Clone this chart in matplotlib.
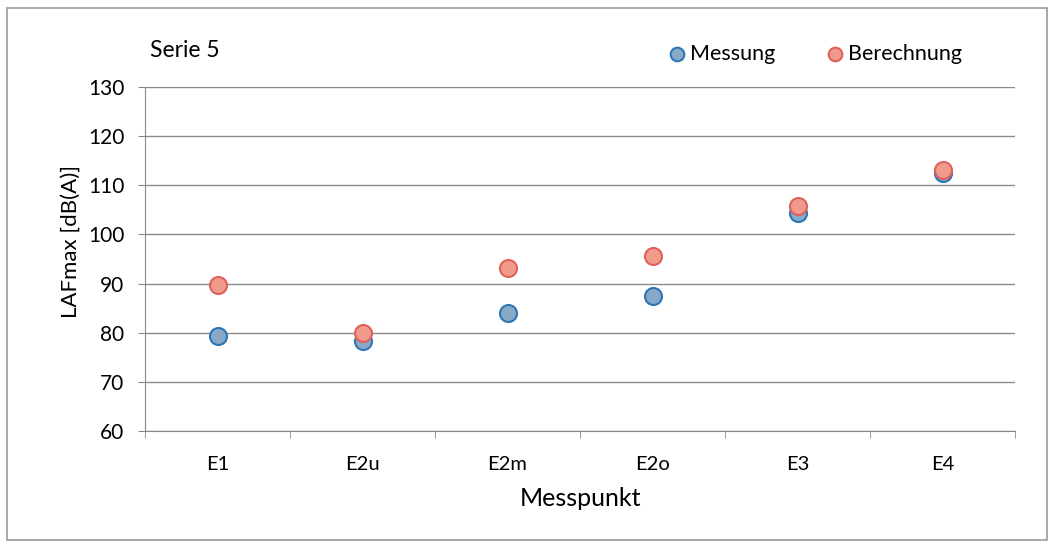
import numpy as np
import matplotlib.pyplot as plt
from matplotlib.patches import Rectangle

plt.rcParams['font.family'] = ['Lato', 'DejaVu Sans']

messpunkte = ["E1", "E2u", "E2m", "E2o", "E3", "E4"]
messung = [79.3, 78.3, 84.0, 87.5, 104.4, 112.5]
berechnung = [89.7, 79.9, 93.2, 95.6, 105.8, 113.1]

fig = plt.figure(figsize=(10.54, 5.48), dpi=100)
ax = fig.add_axes([145/1054, 1 - 431/548, 870/1054, 344/548])

x = np.arange(len(messpunkte))
ax.scatter(x, messung, s=150, facecolor="#86a9c8", edgecolor="#2f76b5", linewidth=1.5, zorder=3, label="Messung")
ax.scatter(x, berechnung, s=150, facecolor="#f09a8c", edgecolor="#e0605a", linewidth=1.5, zorder=4, label="Berechnung")

ax.set_xlim(-0.5, len(messpunkte) - 0.5)
ax.set_ylim(60, 130)
ax.set_yticks(np.arange(60, 131, 10))
ax.set_xticks(x)
ax.set_xticklabels(messpunkte)
ax.set_xticks(np.arange(-0.5, len(messpunkte)), minor=True)
ax.tick_params(axis='x', which='major', length=0, pad=18, labelsize=14.5)
ax.tick_params(axis='x', which='minor', length=5, color="#888888")
ax.tick_params(axis='y', length=5, color="#888888", labelsize=15, pad=10)
ax.grid(axis='y', color="#8a8a8a", linewidth=1.0)
ax.set_axisbelow(True)
for s in ['top', 'right']:
    ax.spines[s].set_visible(False)
for s in ['left', 'bottom']:
    ax.spines[s].set_color("#888888")

ax.set_ylabel("LAFmax [dB(A)]", fontsize=16)
ax.yaxis.set_label_coords(-64/870, 0.55)
ax.set_xlabel("Messpunkt", fontsize=18, labelpad=10)

fig.text(150/1054, 1 - 50/548, "Serie 5", fontsize=16.5, ha='left', va='center')
ax.legend(loc='upper right', bbox_to_anchor=(962/1054, 1 - 44/548), bbox_transform=fig.transFigure,
          ncol=2, frameon=False, fontsize=15.5, markerscale=0.8, handletextpad=0.0,
          columnspacing=2.2, handlelength=1.2, borderaxespad=0, borderpad=0)

fig.patches.append(Rectangle((7/1054, 8/548), 1040/1054, 532/548, transform=fig.transFigure,
                             fill=False, edgecolor="#999999", linewidth=1.2))

fig.savefig("out.png", dpi=100)
